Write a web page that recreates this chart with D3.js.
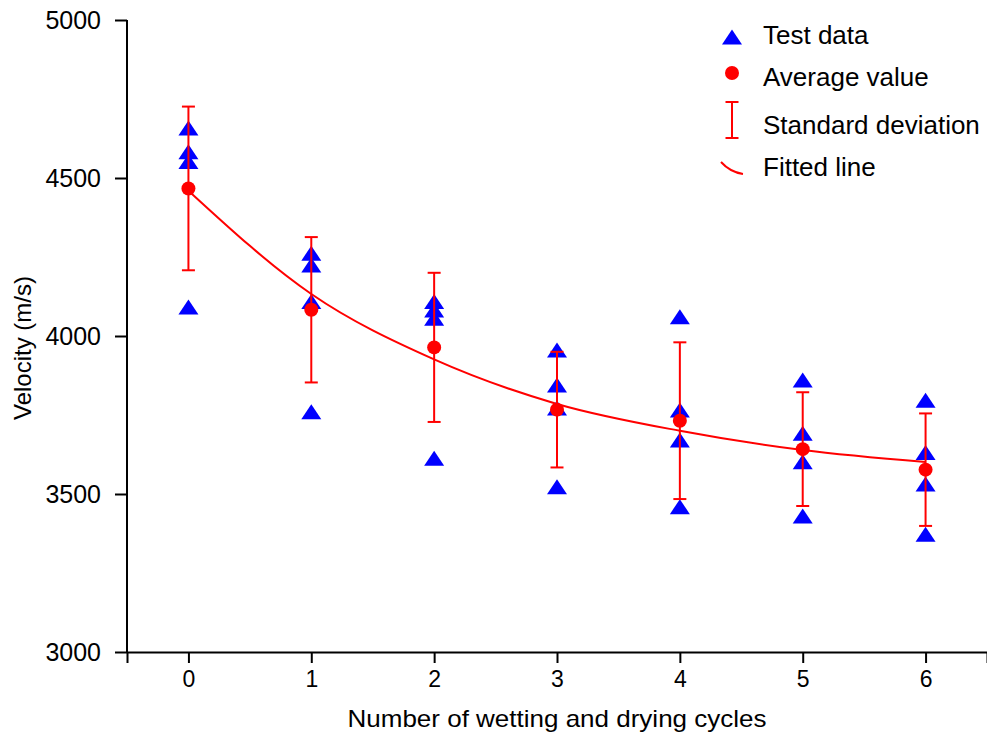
<!DOCTYPE html>
<html>
<head>
<meta charset="utf-8">
<script src="https://cdn.jsdelivr.net/npm/d3@7"></script>
<style>
  body { margin: 0; background: #fff; }
  text { font-family: "Liberation Sans", Arial, sans-serif; fill: #000; }
</style>
</head>
<body>
<div id="chart"></div>
<script>
// values
const cycles = [0, 1, 2, 3, 4, 5, 6];
const testData = [
    [4658, 4583, 4552, 4092],
    [4262, 4225, 4109, 3760],
    [4109, 4082, 4056, 3613],
    [3956, 3845, 3772, 3523],
    [4061, 3766, 3671, 3460],
    [3861, 3692, 3602, 3430],
    [3797, 3631, 3532, 3373]
];
const averages = [4467, 4083, 3964, 3767, 3732, 3642, 3577];
const stdDevs = [259, 230, 236, 183, 248, 180, 178];
const fitted = [4460, 4133, 3926, 3785, 3700, 3639, 3601];
const yTicks = [3000, 3500, 4000, 4500, 5000];
const legendItems = ['Test data', 'Average value', 'Standard deviation', 'Fitted line'];

const width = 987, height = 735;
const margin = {top: 20, right: 0, bottom: 83, left: 127};
const red = '#ff0000', blue = '#0000ff';

const svg = d3.select('#chart').append('svg')
    .attr('width', width)
    .attr('height', height);

const x = d3.scaleLinear().domain([-0.5, 6.5]).range([margin.left, width - margin.right]);
const y = d3.scaleLinear().domain([3000, 5000]).range([height - margin.bottom, margin.top]);

// axes
const xAxis = svg.append('g')
    .attr('transform', `translate(0,${y(3000)})`);
xAxis.call(d3.axisBottom(x).tickValues(d3.range(-0.5, 6.51, 0.5)).tickSize(5).tickFormat(''));
xAxis.call(d3.axisBottom(x).tickValues(cycles).tickSize(11).tickFormat(d3.format('d')).tickPadding(8));
xAxis.selectAll('path.domain').attr('stroke-width', 2);
xAxis.selectAll('line').attr('stroke-width', 2);
xAxis.selectAll('text').attr('font-size', 23);

const yAxis = svg.append('g')
    .attr('transform', `translate(${x(-0.5)},0)`);
yAxis.call(d3.axisLeft(y).tickValues(d3.range(3000, 5001, 250)).tickSize(6).tickFormat(''));
yAxis.call(d3.axisLeft(y).tickValues(yTicks).tickSize(12).tickPadding(14).tickFormat(d3.format('d')));
yAxis.selectAll('path.domain').attr('stroke-width', 2).attr('d', `M0,${y(5000)}V${y(3000)}`);
yAxis.selectAll('line').attr('stroke-width', 2);
yAxis.selectAll('text').attr('font-size', 25);
svg.selectAll('.domain').attr('stroke', '#000');

// axis titles
svg.append('text')
    .attr('x', (x(-0.5) + x(6.5)) / 2)
    .attr('y', 727)
    .attr('text-anchor', 'middle')
    .attr('font-size', 24)
    .attr('textLength', 419)
    .attr('lengthAdjust', 'spacingAndGlyphs')
    .text('Number of wetting and drying cycles');

svg.append('text')
    .attr('transform', `translate(31,348) rotate(-90)`)
    .attr('text-anchor', 'middle')
    .attr('font-size', 24)
    .text('Velocity (m/s)');

// fitted line
const line = d3.line()
    .x((d, i) => x(cycles[i]))
    .y(d => y(d))
    .curve(d3.curveMonotoneX);
svg.append('path')
    .datum(fitted)
    .attr('d', line)
    .attr('fill', 'none')
    .attr('stroke', red)
    .attr('stroke-width', 2);

// test data triangles
const tri = 'M0,-7.5L10,7.5L-10,7.5Z';
const points = [];
testData.forEach((vals, i) => vals.forEach(v => points.push({c: cycles[i], v: v})));
svg.append('g').selectAll('path')
    .data(points)
    .join('path')
    .attr('d', tri)
    .attr('transform', d => `translate(${x(d.c)},${y(d.v)})`)
    .attr('fill', blue);

// error bars
const bars = svg.append('g').selectAll('g')
    .data(cycles)
    .join('g')
    .attr('stroke', red)
    .attr('stroke-width', 2);
bars.append('line')
    .attr('x1', d => x(d)).attr('x2', d => x(d))
    .attr('y1', (d, i) => y(averages[i] + stdDevs[i]))
    .attr('y2', (d, i) => y(averages[i] - stdDevs[i]));
bars.append('line')
    .attr('x1', d => x(d) - 6.5).attr('x2', d => x(d) + 6.5)
    .attr('y1', (d, i) => y(averages[i] + stdDevs[i]))
    .attr('y2', (d, i) => y(averages[i] + stdDevs[i]));
bars.append('line')
    .attr('x1', d => x(d) - 6.5).attr('x2', d => x(d) + 6.5)
    .attr('y1', (d, i) => y(averages[i] - stdDevs[i]))
    .attr('y2', (d, i) => y(averages[i] - stdDevs[i]));

// averages
svg.append('g').selectAll('circle')
    .data(averages)
    .join('circle')
    .attr('cx', (d, i) => x(cycles[i]))
    .attr('cy', d => y(d))
    .attr('r', 7)
    .attr('fill', red);

// legend
const legend = svg.append('g').attr('transform', 'translate(732,0)');
const textY = [35, 77, 125, 167];
legend.append('path').attr('d', tri).attr('transform', 'translate(0,37)').attr('fill', blue);
legend.append('circle').attr('cy', 73).attr('r', 7).attr('fill', red);
legend.append('path')
    .attr('d', 'M-6.5,102H6.5M0,102V138M-6.5,138H6.5')
    .attr('stroke', red).attr('stroke-width', 2).attr('fill', 'none');
legend.append('path')
    .attr('d', 'M-11,162Q-2,172 11,174')
    .attr('stroke', red).attr('stroke-width', 2).attr('fill', 'none');
legend.selectAll('text')
    .data(legendItems)
    .join('text')
    .attr('x', 31)
    .attr('y', (d, i) => textY[i])
    .attr('dy', '0.35em')
    .attr('font-size', 26)
    .text(d => d);
</script>
</body>
</html>
